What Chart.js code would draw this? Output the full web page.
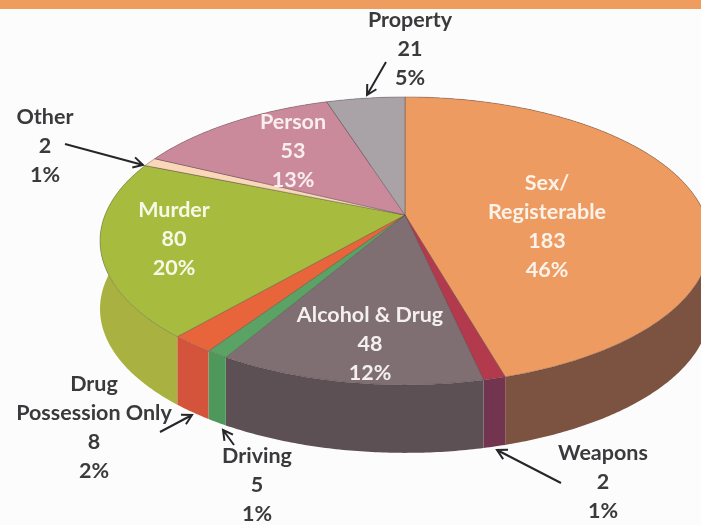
<!DOCTYPE html>
<html>
<head>
<meta charset="utf-8">
<script src="https://cdn.jsdelivr.net/npm/chart.js@4"></script>
<style>
  html, body { margin: 0; padding: 0; background: #fcfcfc; }
  canvas { display: block; filter: blur(0.6px); }
</style>
</head>
<body>
<canvas id="pieChart" width="701" height="525"></canvas>
<script>
// valores, en sentido horario desde arriba
const categories = ['Sex/ Registerable', 'Weapons', 'Alcohol & Drug', 'Driving', 'Drug Possession Only', 'Murder', 'Other', 'Person', 'Property'];
const counts = [183, 2, 48, 5, 8, 80, 2, 53, 21];
// las porciones del original siguen los porcentajes impresos
const percents = [46, 1, 12, 1, 2, 20, 1, 13, 5];

const topColors = ['#EE9B62', '#B23A4C', '#7F6E72', '#5AA365', '#E8653B', '#A7BC3E', '#F9D7B8', '#CB8A9B', '#A9A3A7'];
const sideColors = ['#7C5240', '#73344F', '#5C5055', '#4F985C', '#D4533B', '#A9B240', '#D8B89A', '#9A6573', '#7D787B'];

// posicion de cada etiqueta: nombre en una o dos lineas, x, y de la primera linea, color
const labelLayout = [
  { name: ['Sex/', 'Registerable'], x: 547, y: 183, color: '#FBF3EA' },
  { name: ['Weapons'], x: 603, y: 453, color: '#3A3A3C' },
  { name: ['Alcohol & Drug'], x: 370, y: 315, color: '#F4F0EE' },
  { name: ['Driving'], x: 257, y: 456, color: '#3A3A3C' },
  { name: ['Drug', 'Possession Only'], x: 94, y: 384, color: '#3A3A3C' },
  { name: ['Murder'], x: 174, y: 210, color: '#F8F8E8' },
  { name: ['Other'], x: 45, y: 117, color: '#3A3A3C' },
  { name: ['Person'], x: 293, y: 122, color: '#F8EEF0' },
  { name: ['Property'], x: 410, y: 20, color: '#3A3A3C' }
];

const arrows = [
  [65, 144, 143, 165],
  [386, 62, 367, 95],
  [160, 432, 192, 415],
  [234, 445, 223, 430],
  [561, 483, 497, 450]
];

// pastel inclinado: proyeccion en perspectiva del disco
const apexX = 405, apexY = 215, radX = 300, radY = 139.3, tilt = 0.18, depth = 68;

function project(angle) {
  const u = Math.cos(angle), v = Math.sin(angle);
  const w = 1 - tilt * v;
  return [apexX + radX * u / w, apexY + radY * v / w];
}

function arcPoints(start, end) {
  const steps = Math.max(2, Math.ceil((end - start) / 0.01));
  const pts = [];
  for (let i = 0; i <= steps; i++) pts.push(project(start + (end - start) * i / steps));
  return pts;
}

const tiltedPie = {
  id: 'tiltedPie',
  beforeDatasetsDraw(chart) {
    const ctx = chart.ctx;
    const arcs = chart.getDatasetMeta(0).data;

    // lados
    arcs.forEach((arc, i) => {
      const pts = arcPoints(arc.startAngle, arc.endAngle);
      ctx.beginPath();
      pts.forEach(p => ctx.lineTo(p[0], p[1]));
      pts.slice().reverse().forEach(p => ctx.lineTo(p[0], p[1] + depth));
      ctx.closePath();
      ctx.fillStyle = sideColors[i];
      ctx.fill();
    });

    // caras de arriba
    arcs.forEach((arc, i) => {
      ctx.beginPath();
      ctx.moveTo(apexX, apexY);
      arcPoints(arc.startAngle, arc.endAngle).forEach(p => ctx.lineTo(p[0], p[1]));
      ctx.closePath();
      ctx.fillStyle = topColors[i];
      ctx.fill();
      ctx.strokeStyle = 'rgba(70,60,60,0.45)';
      ctx.lineWidth = 0.8;
      ctx.stroke();
    });

    return false;
  },
  afterDraw(chart) {
    const ctx = chart.ctx;
    ctx.textAlign = 'center';
    ctx.textBaseline = 'middle';
    ctx.font = 'bold 21.5px Lato';
    labelLayout.forEach((lab, i) => {
      const lines = lab.name.concat([String(counts[i]), percents[i] + '%']);
      ctx.fillStyle = lab.color;
      lines.forEach((txt, k) => ctx.fillText(txt, lab.x, lab.y + k * 29));
    });

    ctx.strokeStyle = '#26262a';
    ctx.lineWidth = 2;
    arrows.forEach(([x0, y0, x1, y1]) => {
      const a = Math.atan2(y1 - y0, x1 - x0);
      ctx.beginPath();
      ctx.moveTo(x0, y0);
      ctx.lineTo(x1, y1);
      ctx.moveTo(x1 - 11 * Math.cos(a - 0.5), y1 - 11 * Math.sin(a - 0.5));
      ctx.lineTo(x1, y1);
      ctx.lineTo(x1 - 11 * Math.cos(a + 0.5), y1 - 11 * Math.sin(a + 0.5));
      ctx.stroke();
    });

    // franja naranja de arriba
    ctx.fillStyle = '#EF9D5F';
    ctx.fillRect(0, 0, 701, 9);
  }
};

new Chart(document.getElementById('pieChart'), {
  type: 'pie',
  data: {
    labels: categories,
    datasets: [{ data: percents, backgroundColor: topColors, borderWidth: 0 }]
  },
  options: {
    responsive: false,
    animation: false,
    plugins: {
      legend: { display: false },
      tooltip: { enabled: false }
    }
  },
  plugins: [tiltedPie]
});
</script>
</body>
</html>
